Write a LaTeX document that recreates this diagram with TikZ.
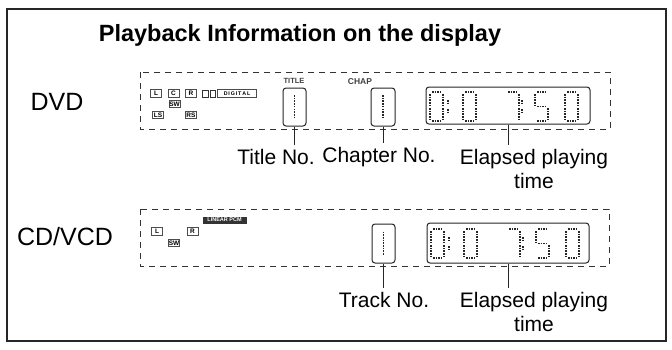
\documentclass[tikz,border=0pt]{standalone}
\usepackage{fontspec}
\setmainfont{Liberation Sans}
\newcommand\segA[2]{\draw[seg] ({#1+2},{#2}) -- ({#1+11},{#2});}
\newcommand\segB[2]{\draw[seg] ({#1+13},{#2+2}) -- ({#1+13},{#2+13});}
\newcommand\segC[2]{\draw[seg] ({#1+13},{#2+16}) -- ({#1+13},{#2+27});}
\newcommand\segD[2]{\draw[seg] ({#1+2},{#2+29}) -- ({#1+11},{#2+29});}
\newcommand\segE[2]{\draw[seg] ({#1},{#2+16}) -- ({#1},{#2+27});}
\newcommand\segF[2]{\draw[seg] ({#1},{#2+2}) -- ({#1},{#2+13});}
\newcommand\segG[2]{\draw[seg] ({#1+2},{#2+14.5}) -- ({#1+11},{#2+14.5});}
\newcommand\lcdzero[2]{\segA{#1}{#2}\segB{#1}{#2}\segC{#1}{#2}\segD{#1}{#2}\segE{#1}{#2}\segF{#1}{#2}}
\newcommand\lcdseven[2]{\segA{#1}{#2}\segB{#1}{#2}\segC{#1}{#2}}
\newcommand\lcdfive[2]{\segA{#1}{#2}\segF{#1}{#2}\segG{#1}{#2}\segC{#1}{#2}\segD{#1}{#2}}
\newcommand\lcdcolon[2]{\draw[seg] ({#1},{#2+8}) -- ({#1},{#2+12});\draw[seg] ({#1},{#2+17}) -- ({#1},{#2+21});}
\newcommand\timedisp[2]{%
  \lcdzero{#1+4}{#2+5}\lcdcolon{#1+22}{#2+5}\lcdzero{#1+37}{#2+5}%
  \lcdseven{#1+80}{#2+5}\lcdcolon{#1+96}{#2+5}\lcdfive{#1+109}{#2+5}\lcdzero{#1+139}{#2+5}}
\begin{document}
\begin{tikzpicture}[x=1pt,y=-1pt,
  frame/.style={draw=black!85, line width=1.3pt},
  dbox/.style={draw=black!80, dash pattern=on 6pt off 5pt, line width=1pt},
  lcdbox/.style={draw=black!85, rounded corners=3pt, line width=1pt, inner sep=0pt},
  lbl/.style={font=\fontsize{21}{24}\selectfont, align=center, inner sep=0pt},
  big/.style={font=\fontsize{25}{28}\selectfont, inner sep=0pt},
  spk/.style={draw=black!70, line width=1pt, fill=white, inner sep=0pt, minimum width=11pt, minimum height=7.5pt, font=\fontsize{6.5}{7}\selectfont\bfseries},
  tag/.style={font=\fontsize{7.5}{8}\selectfont\bfseries, text=black!75, inner sep=0pt},
  seg/.style={draw=black!85, line width=1.8pt, dash pattern=on 1.6pt off 1.1pt},
  lead/.style={draw=black!85, line width=1pt}]
\useasboundingbox (0,0) rectangle (672,349);
\fill[white] (0,0) rectangle (672,349);
\draw[frame] (7,9) rectangle (666,341);
\node[font=\fontsize{23.5}{26}\selectfont\bfseries, inner sep=0pt] (head) at (300,35) {Playback Information on the display};
% ---------- DVD ----------
\node[big] (dvd) at (57,102) {DVD};
\draw[dbox] (140,72) rectangle (610,129);
\node[spk] (sL) at (156,93.5) {L};
\node[spk] (sC) at (173.5,93.5) {C};
\node[spk] (sR) at (191,93.5) {R};
\draw[black!80, line width=1pt] (202.5,90) -- (208,90) -- (208,97) -- (202.5,97) -- cycle;
\draw[black!80, line width=1pt] (210,90) -- (215.5,90) -- (215.5,97) -- (210,97) -- cycle;
\node[spk, minimum width=39pt, font=\fontsize{5.3}{6}\selectfont\bfseries] (dig) at (237,93.5) {D\,I\,G\,I\,T\,A\,L};
\node[spk] (sSW) at (174.5,104) {SW};
\node[spk] (sLS) at (158,115) {LS};
\node[spk] (sRS) at (191,115) {RS};
\node[tag] (ttag) at (294,81) {TITLE};
\node[tag, font=\fontsize{8.5}{9}\selectfont\bfseries] (ctag) at (360,82) {CHAP};
\node[lcdbox, minimum width=23pt, minimum height=38pt] (tbox) at (294.5,107) {};
\node[lcdbox, minimum width=24pt, minimum height=38pt] (cbox) at (383,107) {};
\draw[seg] ([yshift=12pt]tbox.center) -- ([yshift=-12pt]tbox.center);
\draw[seg] ([yshift=12pt]cbox.center) -- ([yshift=-12pt]cbox.center);
\node[lcdbox, minimum width=164pt, minimum height=37pt] (timebox) at (508,105.5) {};
\timedisp{426}{87}
\node[lbl] (tlab) at (276,157) {Title No.};
\node[lbl] (clab) at (379,157) {Chapter No.};
\node[lbl] (elab) at (534,169) {Elapsed playing\\time};
\coordinate (t1) at (tbox.south |- tlab.north);
\coordinate (c1) at (cbox.south |- clab.north);
\coordinate (e1) at (timebox.south |- elab.north);
\draw[lead] (tbox.south) -- ([yshift=4pt]t1);
\draw[lead] (cbox.south) -- ([yshift=4pt]c1);
\draw[lead] (timebox.south) -- ([yshift=4pt]e1);
% ---------- CD/VCD ----------
\node[big] (cd) at (65,237) {CD/VCD};
\draw[dbox] (140,209) rectangle (609,266);
\node[fill=black!80, text=white, inner sep=0pt, minimum width=44pt, minimum height=7pt, font=\fontsize{5.5}{6}\selectfont\bfseries] (pcm) at (224.5,220) {LINEAR PCM};
\node[spk] (cL) at (157,231.5) {L};
\node[spk] (cR) at (192.5,231.5) {R};
\node[spk] (cSW) at (174,243) {SW};
\node[lcdbox, minimum width=23pt, minimum height=39pt] (trbox) at (383.5,243.5) {};
\draw[seg] ([yshift=12pt]trbox.center) -- ([yshift=-12pt]trbox.center);
\node[lcdbox, minimum width=162pt, minimum height=40pt] (timebox2) at (508,243) {};
\timedisp{427}{224}
\node[lbl] (trlab) at (384,300) {Track No.};
\node[lbl] (elab2) at (534,312) {Elapsed playing\\time};
\coordinate (r1) at (trbox.south |- trlab.north);
\coordinate (e2) at (timebox2.south |- elab2.north);
\draw[lead] (trbox.south) -- ([yshift=4pt]r1);
\draw[lead] (timebox2.south) -- ([yshift=4pt]e2);
\end{tikzpicture}
\end{document}
